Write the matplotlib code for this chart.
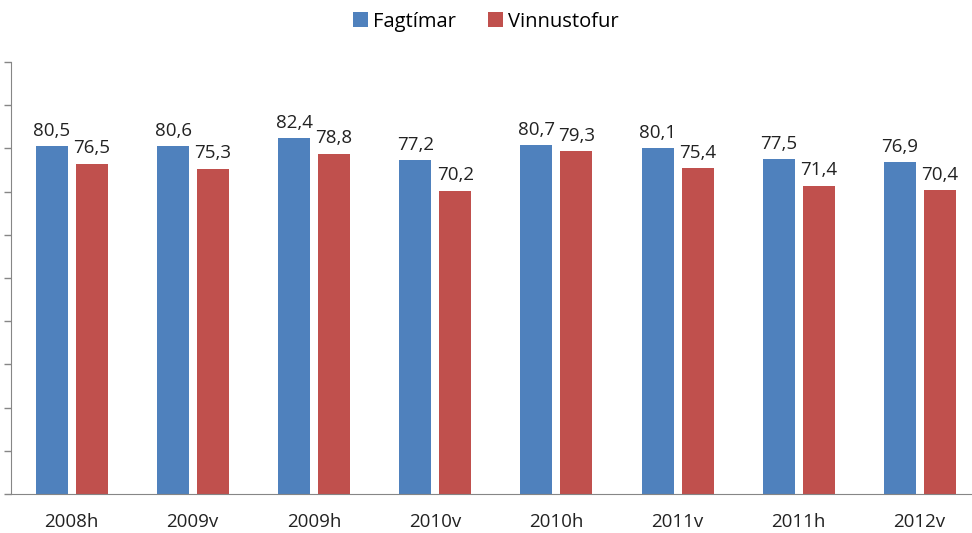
import matplotlib
matplotlib.use("Agg")
import matplotlib.pyplot as plt
import numpy as np

terms = ["2008h", "2009v", "2009h", "2010v", "2010h", "2011v", "2011h", "2012v"]
fagtimar = [80.5, 80.6, 82.4, 77.2, 80.7, 80.1, 77.5, 76.9]
vinnustofur = [76.5, 75.3, 78.8, 70.2, 79.3, 75.4, 71.4, 70.4]

BLUE = "#4F81BD"
RED = "#C0504D"
AXIS = "#868686"

plt.rcParams["font.family"] = ["Open Sans", "DejaVu Sans"]

fig = plt.figure(figsize=(9.72, 5.33), dpi=100)
# the plot area runs a little past the right edge, as in the original
ax = fig.add_axes([11 / 972, 39 / 533, 969 / 972, 432 / 533])

x = np.arange(len(terms))
w = 0.264
b1 = ax.bar(x - 0.162, fagtimar, w, color=BLUE, label="Fagtímar")
b2 = ax.bar(x + 0.168, vinnustofur, w, color=RED, label="Vinnustofur")

for bars, vals in ((b1, fagtimar), (b2, vinnustofur)):
    for r, v in zip(bars, vals):
        ax.annotate(f"{v:.1f}".replace(".", ","),
                    (r.get_x() + r.get_width() / 2, v),
                    xytext=(0, 4.5), textcoords="offset points",
                    ha="center", va="bottom", fontsize=13.5, color="#222222")

ax.set_xlim(-0.5, len(terms) - 0.5)
ax.set_ylim(0, 100)
ax.set_yticks(np.arange(0, 101, 10))
ax.set_yticklabels([])
ax.set_xticks(x)
ax.set_xticklabels(terms, fontsize=13.5, color="#222222")
ax.tick_params(axis="x", length=0, pad=14)
ax.tick_params(axis="y", direction="out", length=5, color=AXIS, width=1)
for s in ("top", "right"):
    ax.spines[s].set_visible(False)
for s in ("left", "bottom"):
    ax.spines[s].set_color(AXIS)

fig.legend(handles=[b1, b2], loc="upper center", bbox_to_anchor=(0.5, 1.012),
           ncol=2, frameon=False, fontsize=14.5, handlelength=0.75,
           handleheight=0.75, handletextpad=0.25, columnspacing=1.6)

fig.savefig("out.png", dpi=100, facecolor="white")
